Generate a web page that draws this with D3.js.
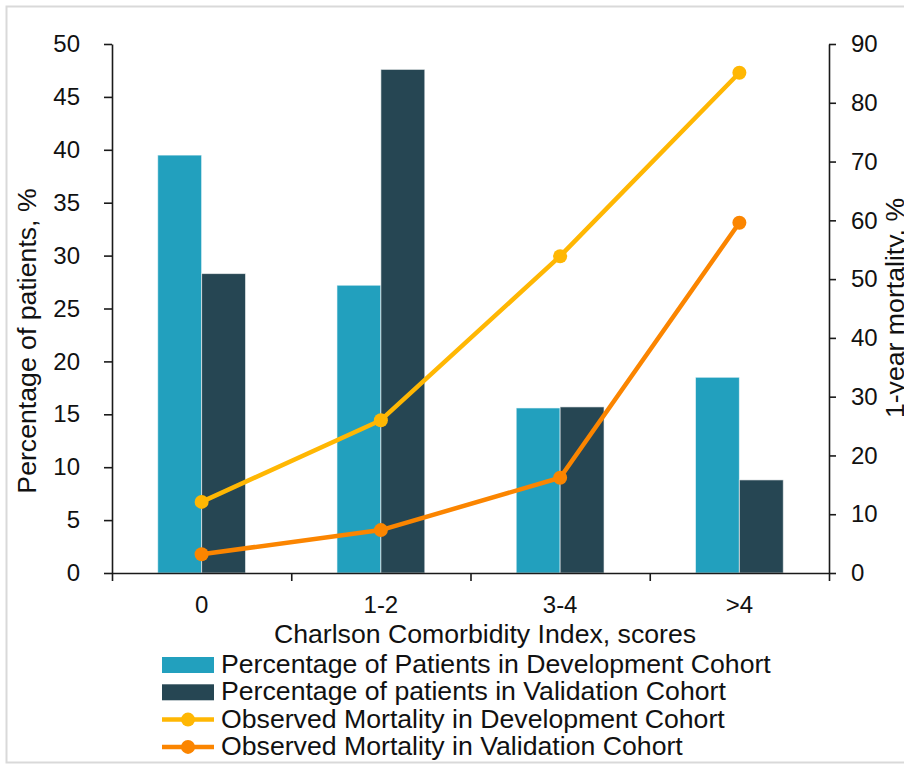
<!DOCTYPE html>
<html>
<head>
<meta charset="utf-8">
<script src="https://cdn.jsdelivr.net/npm/d3@7"></script>
<style>
  body { margin: 0; background: #fff; }
  text { font-family: "Liberation Sans", Arial, sans-serif; fill: #111; }
</style>
</head>
<body>
<div id="chart"></div>
<script>
// chart data
const categories = ['0', '1-2', '3-4', '>4'];
const devPatients = [39.5, 27.2, 15.6, 18.5];
const valPatients = [28.3, 47.6, 15.7, 8.8];
const devMortality = [12.1, 26.0, 53.9, 85.1];
const valMortality = [3.2, 7.3, 16.2, 59.6];
const leftTicks = [0, 5, 10, 15, 20, 25, 30, 35, 40, 45, 50];
const rightTicks = [0, 10, 20, 30, 40, 50, 60, 70, 80, 90];

const barSeries = [
  {name: 'Percentage of Patients in Development Cohort', values: devPatients, color: '#22A0BE'},
  {name: 'Percentage of patients in Validation Cohort', values: valPatients, color: '#264653'}
];
const lineSeries = [
  {name: 'Observed Mortality in Development Cohort', values: devMortality, color: '#FFB703'},
  {name: 'Observed Mortality in Validation Cohort', values: valMortality, color: '#FB8500'}
];

const W = 904, H = 765;
const plot = {left: 112, right: 829, top: 44, bottom: 573};
const tickFont = 24, titleFont = 26.67;

const svg = d3.select('#chart')
  .append('svg')
  .attr('width', W)
  .attr('height', H);

// outer frame
svg.append('rect')
  .attr('x', 6.5).attr('y', 6.5)
  .attr('width', 940).attr('height', 756)
  .attr('fill', '#fff')
  .attr('stroke', '#d9d9d9')
  .attr('stroke-width', 2);

const x0 = d3.scaleBand()
  .domain(categories)
  .range([plot.left, plot.right])
  .paddingInner(0.51)
  .paddingOuter(0.255);

const x1 = d3.scaleBand()
  .domain(barSeries.map(d => d.name))
  .range([0, x0.bandwidth()]);

const xEdges = d3.scaleLinear()
  .domain([0, categories.length])
  .range([plot.left, plot.right]);

const yLeft = d3.scaleLinear().domain([0, 50]).range([plot.bottom, plot.top]);
const yRight = d3.scaleLinear().domain([0, 90]).range([plot.bottom, plot.top]);

// bars
barSeries.forEach(s => {
  svg.append('g')
    .selectAll('rect')
    .data(categories)
    .enter().append('rect')
    .attr('x', d => x0(d) + x1(s.name))
    .attr('y', (d, i) => yLeft(s.values[i]))
    .attr('width', x1.bandwidth())
    .attr('height', (d, i) => yLeft(0) - yLeft(s.values[i]))
    .attr('fill', s.color)
    .attr('stroke', '#ffffff')
    .attr('stroke-opacity', 0.6)
    .attr('stroke-width', 1);
});

// axes
const axisColor = '#1a1a1a';
function styleAxis(g) {
  g.selectAll('path, line').attr('stroke', axisColor).attr('stroke-width', 1.6);
  g.selectAll('text').attr('font-size', tickFont).attr('fill', '#111');
}

svg.append('g')
  .attr('transform', 'translate(' + plot.left + ',0)')
  .call(d3.axisLeft(yLeft).tickValues(leftTicks).tickSize(8).tickSizeOuter(0).tickPadding(24))
  .call(styleAxis);

svg.append('g')
  .attr('transform', 'translate(' + plot.right + ',0)')
  .call(d3.axisRight(yRight).tickValues(rightTicks).tickSize(7).tickSizeOuter(0).tickPadding(15))
  .call(styleAxis);

// x axis line with ticks at category borders
svg.append('g')
  .attr('transform', 'translate(0,' + plot.bottom + ')')
  .call(d3.axisBottom(xEdges).tickValues(d3.range(categories.length + 1)).tickFormat('').tickSize(8).tickSizeOuter(0))
  .call(styleAxis);

// x category labels
svg.append('g')
  .attr('transform', 'translate(0,' + plot.bottom + ')')
  .call(d3.axisBottom(x0).tickSize(0).tickPadding(23))
  .call(g => g.select('.domain').remove())
  .call(styleAxis);

// lines
const lineGen = d3.line()
  .x((d, i) => x0(categories[i]) + x0.bandwidth() / 2)
  .y(d => yRight(d));

lineSeries.forEach(s => {
  svg.append('path')
    .attr('d', lineGen(s.values))
    .attr('fill', 'none')
    .attr('stroke', s.color)
    .attr('stroke-width', 4.5)
    .attr('stroke-linejoin', 'round');
  svg.append('g')
    .selectAll('circle')
    .data(s.values)
    .enter().append('circle')
    .attr('cx', (d, i) => x0(categories[i]) + x0.bandwidth() / 2)
    .attr('cy', d => yRight(d))
    .attr('r', 7)
    .attr('fill', s.color);
});

// axis titles
svg.append('text')
  .attr('transform', 'translate(36,341) rotate(-90)')
  .attr('text-anchor', 'middle')
  .attr('font-size', titleFont)
  .text('Percentage of patients, %');

svg.append('text')
  .attr('transform', 'translate(904,308) rotate(-90)')
  .attr('text-anchor', 'middle')
  .attr('font-size', titleFont)
  .text('1-year mortality, %');

svg.append('text')
  .attr('x', 485)
  .attr('y', 643)
  .attr('text-anchor', 'middle')
  .attr('font-size', titleFont)
  .text('Charlson Comorbidity Index, scores');

// legend
const legendItems = barSeries.map(d => ({...d, type: 'bar'}))
  .concat(lineSeries.map(d => ({...d, type: 'line'})));

const legend = svg.append('g').attr('transform', 'translate(162,0)');
legendItems.forEach((item, i) => {
  const baseline = 673 + i * 27.3;
  const g = legend.append('g');
  if (item.type === 'bar') {
    g.append('rect')
      .attr('x', 0).attr('y', baseline - 16)
      .attr('width', 52).attr('height', 16)
      .attr('fill', item.color);
  } else {
    g.append('line')
      .attr('x1', 0).attr('x2', 52)
      .attr('y1', baseline - 8).attr('y2', baseline - 8)
      .attr('stroke', item.color).attr('stroke-width', 4.5);
    g.append('circle')
      .attr('cx', 26).attr('cy', baseline - 8)
      .attr('r', 7)
      .attr('fill', item.color);
  }
  g.append('text')
    .attr('x', 59)
    .attr('y', baseline)
    .attr('font-size', titleFont)
    .text(item.name);
});
</script>
</body>
</html>
